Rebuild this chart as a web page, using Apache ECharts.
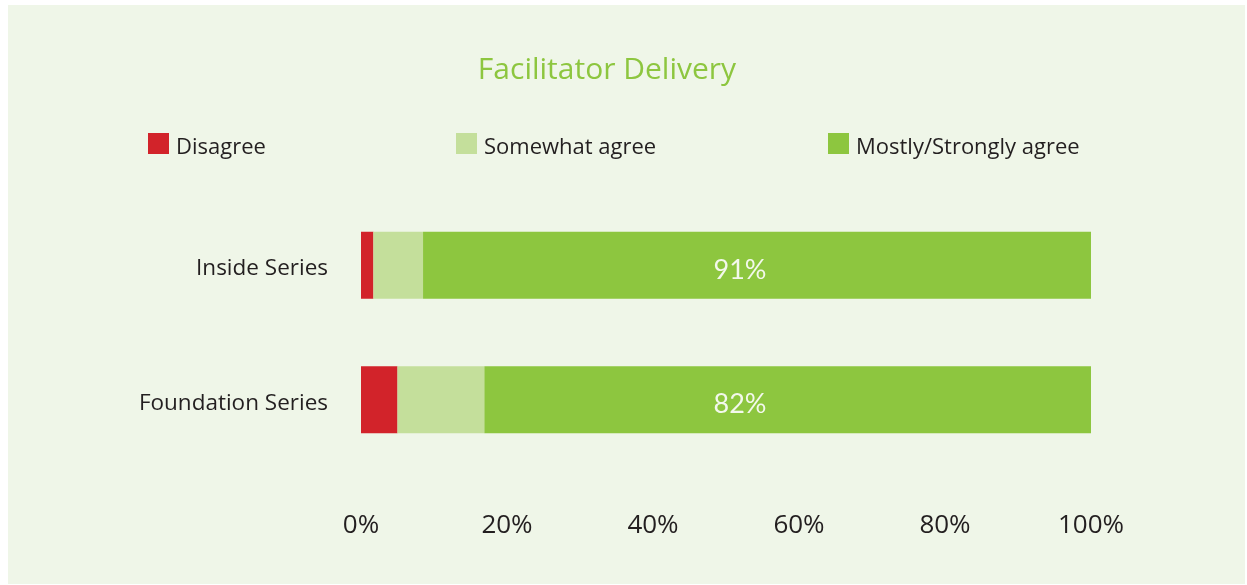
<!DOCTYPE html>
<html>
<head>
<meta charset="utf-8">
<script src="https://cdn.jsdelivr.net/npm/echarts@6/dist/echarts.min.js"></script>
<style>
html,body{margin:0;padding:0;background:#ffffff;}
#chart{width:1247px;height:585px;}
</style>
</head>
<body>
<div id="chart"></div>
<script>
var categories = ["Inside Series", "Foundation Series"];
var disagree = [1.7, 5.0];
var somewhat = [6.8, 11.9];
var mostly = [91.5, 83.1];
var mostlyLabels = ["91%", "82%"];
var xTicks = [0, 20, 40, 60, 80, 100];

var FONT = "'Open Sans', Lato, sans-serif";
var LFONT = "Lato, 'Open Sans', sans-serif";
var totals = categories.map(function (c, i) { return disagree[i] + somewhat[i] + mostly[i]; });

var chart = echarts.init(document.getElementById('chart'), null, {renderer: 'canvas'});

function legendItem(name, left) {
  return {
    data: [name],
    left: left, top: 133,
    itemWidth: 21, itemHeight: 21, itemGap: 0,
    icon: 'rect',
    selectedMode: false,
    formatter: function (n) { return '{t|' + n + '}'; },
    textStyle: {
      fontFamily: FONT, fontSize: 22, color: '#231f20',
      rich: {t: {fontFamily: FONT, fontSize: 22, color: '#231f20', padding: [8, 0, 0, 2]}}
    },
    padding: 0
  };
}

chart.setOption({
  animation: false,
  backgroundColor: '#ffffff',
  graphic: [{
    type: 'rect', z: -10, silent: true,
    shape: {x: 8, y: 5, width: 1237, height: 579},
    style: {fill: '#eff6e8'}
  }],
  title: {
    text: 'Facilitator Delivery',
    left: 602, top: 50, textAlign: 'center',
    textStyle: {fontFamily: FONT, fontSize: 30, fontWeight: 'normal', color: '#8dc63f'}
  },
  legend: [
    legendItem('Disagree', 148),
    legendItem('Somewhat agree', 456),
    legendItem('Mostly/Strongly agree', 828)
  ],
  grid: {left: 361, right: 156, top: 198, bottom: 585 - 467, containLabel: false},
  xAxis: {
    type: 'value', min: 0, max: 100, interval: 20,
    axisLine: {show: false}, axisTick: {show: false}, splitLine: {show: false},
    axisLabel: {
      margin: 46, fontFamily: FONT, fontSize: 26, color: '#231f20',
      formatter: function (v) { return xTicks.indexOf(v) >= 0 ? v + '%' : ''; }
    }
  },
  yAxis: {
    type: 'category', data: categories, inverse: true,
    axisLine: {show: false}, axisTick: {show: false},
    axisLabel: {
      margin: 33, fontFamily: FONT, fontSize: 22.5, color: '#231f20',
      formatter: function (v) { return '{t|' + v + '}'; },
      rich: {t: {fontFamily: FONT, fontSize: 22.5, color: '#231f20', padding: [7, 0, 0, 0]}}
    }
  },
  series: [
    {name: 'Disagree', type: 'bar', stack: 's', barWidth: 67, data: disagree,
      itemStyle: {color: '#d2232a'}},
    {name: 'Somewhat agree', type: 'bar', stack: 's', data: somewhat,
      itemStyle: {color: '#c4df9b'}},
    {name: 'Mostly/Strongly agree', type: 'bar', stack: 's', data: mostly,
      itemStyle: {color: '#8dc63f'}},
    {name: 'labels', type: 'bar', barWidth: 67, barGap: '-100%', data: totals,
      itemStyle: {color: 'rgba(0,0,0,0)'}, silent: true, z: 5,
      label: {show: true, position: 'inside', offset: [14, 5],
        fontFamily: LFONT, fontSize: 27, color: '#f3f8ec',
        formatter: function (p) { return mostlyLabels[p.dataIndex]; }}}
  ]
});
</script>
</body>
</html>
